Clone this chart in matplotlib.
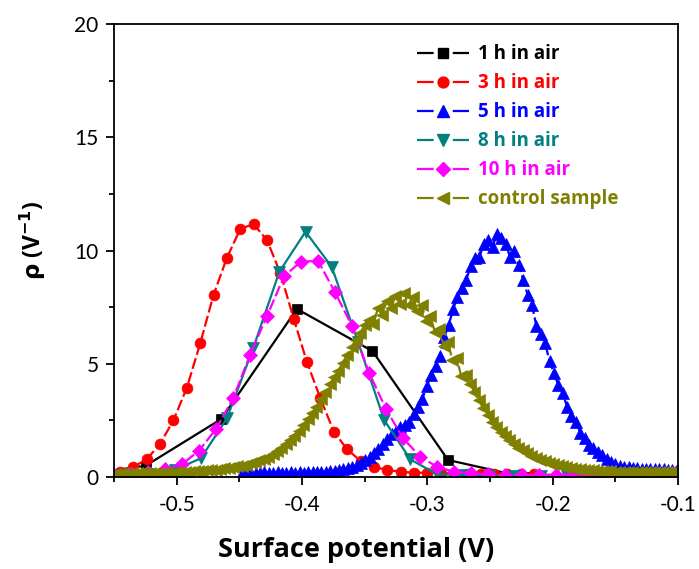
import matplotlib
matplotlib.use("Agg")
import matplotlib.pyplot as plt
import numpy as np
from matplotlib.lines import Line2D
from matplotlib.ticker import MultipleLocator

plt.rcParams["font.family"] = ["Lato", "DejaVu Sans"]

# 1 h in air
x_1h = [-0.5850, -0.5247, -0.4644, -0.4041, -0.3438, -0.2835, -0.2232, -0.1629, -0.1026]
y_1h = [0.0, 0.50, 2.56, 7.42, 5.56, 0.75, 0.0, 0.0, 0.0]

# 3 h in air
x_3h = [-0.5452, -0.5345, -0.5239, -0.5132, -0.5026, -0.4919, -0.4812, -0.4706,
        -0.4599, -0.4493, -0.4386, -0.4279, -0.4173, -0.4066, -0.3960, -0.3853,
        -0.3746, -0.3640, -0.3533, -0.3427, -0.3320, -0.3213, -0.3107, -0.3000,
        -0.2894, -0.2787, -0.2680, -0.2574, -0.2467, -0.2361, -0.2254, -0.2147]
y_3h = [0.23, 0.45, 0.78, 1.47, 2.50, 3.94, 5.90, 8.04, 9.68, 10.95, 11.17, 10.45,
        9.00, 6.98, 5.06, 3.47, 2.00, 1.22, 0.71, 0.45, 0.31, 0.23, 0.19, 0.19,
        0.17, 0.16, 0.15, 0.14, 0.14, 0.13, 0.13, 0.12]

# 5 h in air (x0 = -0.4475, step 0.0035)
x0_5h, dx_5h = -0.4475, 0.0035
y_5h = [0.18, 0.19, 0.17, 0.19, 0.18, 0.20, 0.19, 0.18, 0.20, 0.19,
        0.19, 0.20, 0.18, 0.20, 0.19, 0.21, 0.20, 0.21, 0.22, 0.23,
        0.25, 0.27, 0.30, 0.34, 0.39, 0.45, 0.53, 0.63, 0.75, 0.90,
        1.05, 1.25, 1.45, 1.68, 1.90, 2.05, 2.20, 2.30, 2.45, 2.80,
        3.10, 3.45, 4.00, 4.50, 4.90, 5.35, 6.20, 6.70, 7.40, 7.95,
        8.35, 8.70, 9.30, 9.65, 9.70, 10.30, 10.45, 10.15, 10.75, 10.55,
        10.30, 9.70, 10.00, 9.35, 8.70, 8.05, 7.60, 6.65, 6.30, 5.90,
        5.10, 4.60, 4.05, 3.70, 3.10, 2.70, 2.45, 1.95, 1.70, 1.40,
        1.30, 1.10, 0.95, 0.78, 0.66, 0.58, 0.50, 0.46, 0.42, 0.40,
        0.38, 0.37, 0.36, 0.35, 0.35, 0.34, 0.34, 0.33, 0.33, 0.33]

# 8 h in air
x_8h = [-0.5435, -0.5226, -0.5017, -0.4808, -0.4599, -0.4390, -0.4181, -0.3972,
        -0.3763, -0.3554, -0.3345, -0.3136, -0.2927, -0.2718, -0.2509, -0.2300,
        -0.2091, -0.1882, -0.1673, -0.1464, -0.1255, -0.1046]
y_8h = [0.10, 0.15, 0.32, 0.82, 2.59, 5.68, 9.06, 10.83, 9.28, 5.98, 2.52, 0.78,
        0.13, 0.08, 0.06, 0.05, 0.05, 0.04, 0.04, 0.04, 0.04, 0.04]

# 10 h in air
x_10h = [-0.5500, -0.5364, -0.5229, -0.5093, -0.4957, -0.4822, -0.4686, -0.4550,
         -0.4415, -0.4279, -0.4143, -0.4008, -0.3872, -0.3736, -0.3601, -0.3465,
         -0.3329, -0.3194, -0.3058, -0.2922, -0.2787, -0.2651, -0.2515, -0.2380,
         -0.2244, -0.2108, -0.1973, -0.1837, -0.1701, -0.1566, -0.1430, -0.1294,
         -0.1159, -0.1023]
y_10h = [0.10, 0.15, 0.22, 0.34, 0.57, 1.16, 2.12, 3.47, 5.39, 7.11, 8.87, 9.51,
         9.54, 8.15, 6.67, 4.61, 2.99, 1.71, 0.90, 0.45, 0.23, 0.16, 0.12, 0.10,
         0.10, 0.10, 0.10, 0.10, 0.10, 0.10, 0.10, 0.10, 0.12, 0.18]

# control sample (x0 = -0.5495, step 0.0035)
x0_ctrl, dx_ctrl = -0.5495, 0.0035
y_ctrl = [0.15, 0.15, 0.16, 0.15, 0.16, 0.16, 0.17, 0.16, 0.17, 0.17,
          0.18, 0.18, 0.19, 0.19, 0.20, 0.21, 0.22, 0.23, 0.25, 0.26,
          0.28, 0.30, 0.31, 0.33, 0.36, 0.38, 0.41, 0.44, 0.47, 0.50,
          0.55, 0.60, 0.66, 0.73, 0.80, 0.90, 1.00, 1.15, 1.30, 1.45,
          1.62, 1.82, 2.04, 2.28, 2.55, 2.84, 3.10, 3.45, 3.75, 4.10,
          4.40, 4.70, 5.05, 5.40, 5.75, 6.05, 6.35, 6.70, 6.95, 6.75,
          7.45, 7.15, 7.75, 7.45, 8.00, 7.65, 8.12, 7.60, 7.95, 7.35,
          7.60, 6.90, 7.10, 6.40, 6.55, 5.80, 5.95, 5.15, 5.25, 4.45,
          4.50, 4.12, 3.75, 3.38, 3.05, 2.72, 2.45, 2.20, 1.98, 1.80,
          1.62, 1.45, 1.30, 1.17, 1.04, 0.94, 0.85, 0.76, 0.69, 0.62,
          0.56, 0.51, 0.47, 0.43, 0.40, 0.37, 0.35, 0.33, 0.31, 0.29,
          0.28, 0.27, 0.26, 0.25, 0.24, 0.24, 0.23, 0.23, 0.22, 0.22,
          0.22, 0.21, 0.21, 0.21, 0.20, 0.20, 0.20, 0.20, 0.20]

labels = ["1 h in air", "3 h in air", "5 h in air", "8 h in air",
          "10 h in air", "control sample"]
colors = ["black", "#FF0000", "#0000FF", "#008080", "#FF00FF", "#808000"]

x_5h = x0_5h + dx_5h * np.arange(len(y_5h))
x_ctrl = x0_ctrl + dx_ctrl * np.arange(len(y_ctrl))

series = [
    (x_1h, y_1h, "s", 7.0, "-"),
    (x_3h, y_3h, "o", 7.8, (0, (5, 1.6))),
    (x_5h, y_5h, "^", 8.6, (0, (5, 1.6))),
    (x_8h, y_8h, "v", 8.6, "-"),
    (x_10h, y_10h, "D", 7.2, (0, (5, 1.6))),
    (x_ctrl, y_ctrl, "<", 8.6, (0, (5, 1.6))),
]

fig = plt.figure(figsize=(6.99, 5.69), dpi=100, facecolor="white")
ax = fig.add_axes([0.1631, 0.1617, 0.8069, 0.7961])

handles = []
for (x, y, m, ms, ls), c, lab in zip(series, colors, labels):
    ax.plot(x, y, color=c, linestyle=ls, linewidth=1.6, marker=m,
            markersize=ms, markeredgecolor=c, markerfacecolor=c,
            markeredgewidth=0.5, clip_on=True)
    handles.append(Line2D([], [], color=c, linewidth=1.6, linestyle=(0, (7.5, 8.6)),
                          marker=m, markersize=ms, markerfacecolor=c,
                          markeredgecolor=c))

ax.set_xlim(-0.55, -0.1)
ax.set_ylim(0, 20)
ax.xaxis.set_minor_locator(MultipleLocator(0.05))
ax.yaxis.set_major_locator(MultipleLocator(5))
ax.yaxis.set_minor_locator(MultipleLocator(2.5))
ax.set_xticks([-0.5, -0.4, -0.3, -0.2, -0.1])
ax.set_xticklabels(["-0.5", "-0.4", "-0.3", "-0.2", "-0.1"])
ax.tick_params(which="major", direction="out", length=6, width=1.3,
               labelsize=15, pad=7)
ax.tick_params(which="minor", direction="out", length=3.5, width=1.3)
ax.tick_params(axis="y", which="major", pad=5)
for s in ax.spines.values():
    s.set_linewidth(1.3)

ax.set_xlabel("Surface potential (V)", fontsize=19.5, fontweight="bold",
              family=["Open Sans", "DejaVu Sans"])
ax.xaxis.set_label_coords(0.43, -0.133)
ax.set_ylabel(r"$\mathbf{\rho}$ (V$^{\mathbf{-1}}$)", fontsize=16.5, fontweight="bold",
              family=["Open Sans", "DejaVu Sans"])
ax.yaxis.set_label_coords(-0.117, 0.523)

leg = ax.legend(handles, labels, loc="upper left", bbox_to_anchor=(0.537, 0.955),
                frameon=False, handlelength=2.8, handletextpad=0.45,
                labelspacing=0.48, borderaxespad=0, borderpad=0,
                prop={"weight": "bold", "size": 13.5, "family": ["Open Sans", "DejaVu Sans"]})
for t, c in zip(leg.get_texts(), colors):
    t.set_color(c)

fig.savefig("out.png", dpi=100, facecolor="white")
